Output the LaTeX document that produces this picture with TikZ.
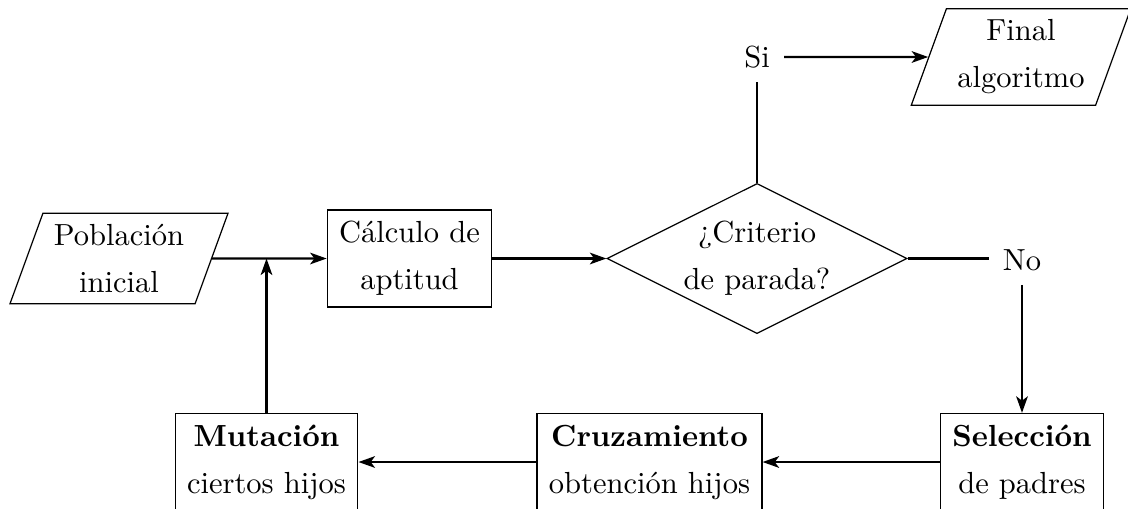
\documentclass[tikz,border=0pt]{standalone}
\usetikzlibrary{shapes.geometric,arrows.meta}
\tikzset{
  box/.style={draw, align=center, inner xsep=3.9pt, inner ysep=3.6pt, minimum height=31.8pt},
  io/.style={draw, trapezium, trapezium left angle=70, trapezium right angle=110, align=center, inner xsep=3.6pt, inner ysep=3.6pt},
  dec/.style={draw, diamond, aspect=2, align=center, inner sep=0pt, minimum width=98.3pt, minimum height=49.2pt},
  lbl/.style={inner sep=4.5pt},
  conn/.style={thick, -{Stealth[length=5.4pt,width=3.8pt,inset=1.4pt]}},
  line/.style={thick}
}
\begin{document}
\begin{tikzpicture}[x=0.3277pt, y=-0.3277pt]
\useasboundingbox (0,0) rectangle (1128,508);
\node[io] (pob) at (119,258.5) {Población\\[3.4pt]inicial};
\node[box] (calc) at (409.5,258.5) {Cálculo de\\[3.4pt]aptitud};
\node[dec] (dec) at (757,258.5) {¿Criterio\\[3.4pt]de parada?};
\node[lbl] (si) at (757,57) {Si};
\node[io] (fin) at (1021,57) {Final\\[3.4pt]algoritmo};
\node[lbl] (no) at (1022,260) {No};
\node[box] (sel) at (1022,462) {\textbf{Selección}\\[3.4pt]de padres};
\node[box] (cru) at (649.5,462) {\textbf{Cruzamiento}\\[3.4pt]obtención hijos};
\node[box] (mut) at (266.5,462) {\textbf{Mutación}\\[3.4pt]ciertos hijos};
\coordinate (j) at (mut.north |- pob.east);
\coordinate (nol) at (dec.east -| no.west);
\draw[conn] (pob.east) -- (calc.west);
\draw[conn] (mut.north) -- (j);
\draw[conn] (calc.east) -- (dec.west);
\draw[line] (dec.north) -- (si.south);
\draw[conn] (si.east) -- (fin.west);
\draw[line] (dec.east) -- (nol);
\draw[conn] (no.south) -- (sel.north);
\draw[conn] (sel.west) -- (cru.east);
\draw[conn] (cru.west) -- (mut.east);
\end{tikzpicture}
\end{document}
